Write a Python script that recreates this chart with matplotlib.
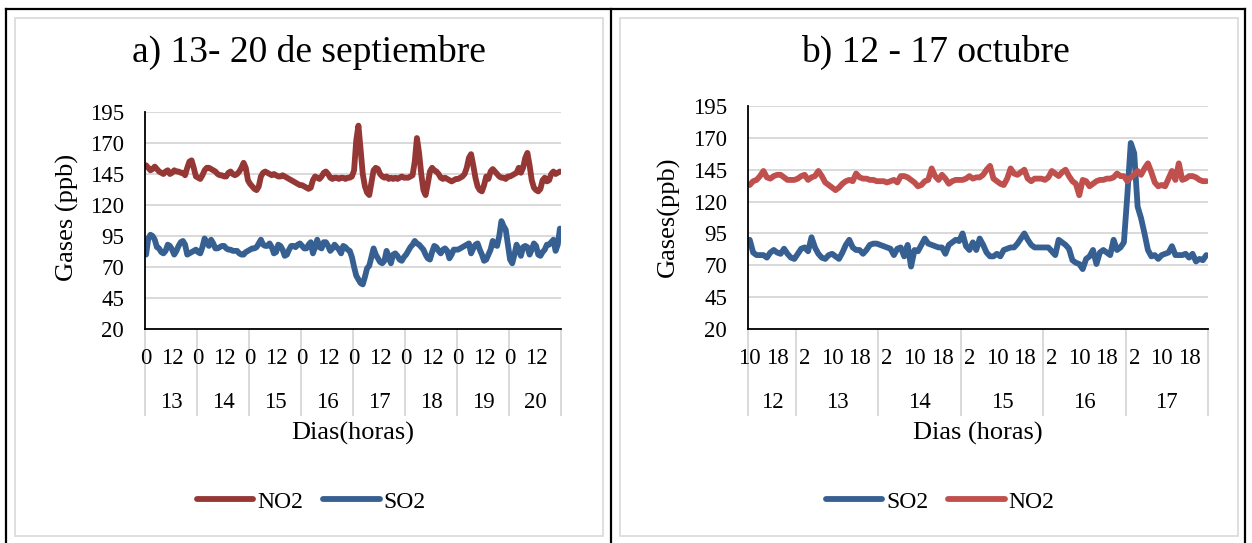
import matplotlib
matplotlib.use('Agg')
import matplotlib.pyplot as plt
from matplotlib import transforms
from matplotlib.lines import Line2D
from matplotlib.patches import Rectangle

plt.rcParams['font.family'] = 'Liberation Serif'

# ---- a) 13-20 septiembre, hourly values (ppb) ----
days_a = ['13', '14', '15', '16', '17', '18', '19', '20']
hour_ticks_a = ['0', '12'] * 8
no2_a = [152, 150, 148, 149, 151, 149, 147, 146, 145, 147, 148, 145, 146, 148, 147, 147, 146, 146, 144, 150, 155, 156, 150, 143,
         142, 141, 144, 148, 150, 150, 149, 148, 147, 145, 144, 144, 143, 143, 146, 147, 145, 144, 145, 147, 150, 154, 150, 140,
         137, 135, 133, 132, 135, 143, 146, 147, 146, 145, 144, 145, 144, 143, 143, 144, 143, 142, 141, 140, 139, 138, 137, 136,
         136, 135, 134, 133, 134, 140, 143, 142, 141, 143, 146, 147, 145, 142, 141, 142, 142, 141, 142, 142, 141, 142, 142, 143,
         148, 172, 184, 165, 145, 135, 130, 128, 138, 148, 150, 149, 145, 143, 142, 143, 141, 142, 141, 142, 141, 142, 143, 142,
         142, 142, 143, 144, 155, 174, 162, 145, 132, 128, 137, 147, 150, 148, 147, 145, 142, 141, 142, 141, 140, 139, 140, 141,
         141, 142, 143, 145, 150, 158, 161, 152, 142, 135, 132, 131, 136, 143, 141, 147, 149, 147, 145, 143, 142, 142, 141, 143,
         143, 144, 145, 146, 150, 146, 150, 158, 162, 152, 140, 134, 132, 131, 133, 140, 142, 139, 140, 145, 147, 145, 146, 147]
so2_a = [80, 93, 96, 95, 92, 86, 85, 82, 81, 83, 88, 87, 84, 80, 83, 87, 90, 91, 88, 80, 81, 82, 83, 84,
         82, 81, 86, 93, 90, 87, 92, 89, 85, 85, 86, 87, 87, 85, 84, 84, 83, 83, 83, 81, 80, 80, 82, 83,
         84, 85, 85, 86, 89, 92, 88, 87, 87, 89, 86, 81, 82, 88, 87, 84, 79, 80, 84, 87, 87, 86, 88, 89,
         87, 85, 85, 88, 90, 81, 86, 92, 86, 85, 90, 90, 87, 83, 85, 88, 86, 84, 81, 87, 86, 84, 83, 78,
         70, 63, 60, 57, 56, 62, 69, 71, 78, 85, 80, 77, 74, 73, 75, 83, 78, 73, 80, 81, 79, 76, 75, 78,
         80, 83, 86, 88, 91, 89, 88, 86, 84, 80, 77, 76, 82, 87, 86, 83, 81, 84, 85, 83, 77, 80, 84, 84,
         84, 85, 86, 87, 88, 89, 81, 85, 88, 89, 84, 80, 75, 76, 80, 84, 91, 88, 87, 95, 107, 103, 100, 88,
         76, 73, 80, 88, 84, 79, 86, 87, 86, 80, 84, 89, 87, 80, 79, 82, 84, 88, 88, 90, 92, 83, 88, 101]

# ---- b) 12-17 octubre, hourly values (ppb), day 12 starts at 10 h ----
days_b = ['12', '13', '14', '15', '16', '17']
day_len_b = [14, 24, 24, 24, 24, 24]
hour_ticks_b = ['10', '18'] + ['2', '10', '18'] * 5
so2_b = [90, 80, 78, 78, 78, 76, 80, 82, 80, 79, 83, 79, 76, 75,
         79, 83, 84, 81, 92, 84, 79, 76, 75, 78, 79, 77, 75, 80, 86, 90, 84, 82, 82, 79, 82, 86, 87, 87,
         86, 85, 84, 83, 78, 83, 84, 77, 86, 69, 82, 81, 86, 91, 87, 86, 85, 84, 84, 79, 86, 88, 90, 89,
         95, 85, 82, 88, 82, 91, 86, 80, 77, 77, 79, 77, 82, 83, 84, 84, 87, 91, 95, 90, 86, 84, 84, 84,
         84, 84, 81, 78, 90, 88, 86, 83, 74, 72, 71, 67, 75, 77, 82, 71, 80, 82, 80, 78, 90, 82, 84, 88,
         125, 166, 158, 116, 107, 95, 82, 77, 78, 75, 78, 79, 80, 85, 78, 78, 78, 79, 76, 79, 73, 75, 74, 78]
no2_b = [133, 136, 137, 140, 144, 139, 138, 140, 141, 141, 139, 137, 137, 137,
         138, 140, 141, 137, 139, 140, 144, 140, 135, 133, 131, 129, 131, 134, 136, 137, 136, 142, 139, 138, 138, 137, 137, 136,
         136, 136, 135, 136, 137, 135, 140, 140, 139, 137, 135, 132, 133, 136, 137, 146, 140, 137, 141, 138, 134, 136, 137, 137,
         137, 138, 140, 138, 139, 139, 141, 145, 148, 138, 136, 134, 133, 138, 146, 142, 141, 143, 145, 138, 136, 138, 138, 138,
         137, 139, 144, 142, 140, 143, 145, 140, 136, 134, 125, 137, 136, 132, 134, 136, 137, 137, 138, 138, 139, 142, 140, 140,
         136, 139, 141, 144, 141, 146, 150, 143, 135, 132, 133, 132, 138, 144, 137, 150, 137, 138, 140, 140, 139, 137, 136, 136]

W, H = 1252, 543
fig = plt.figure(figsize=(W / 100, H / 100), dpi=100)


def fx(x):
    return x / W


def fy(y):
    return 1 - y / H


# table borders and chart frames
for xs, ys in [([6, 6], [9, 543]), ([611, 611], [9, 543]), ([1245, 1245], [9, 543]), ([6, 1245], [9, 9])]:
    fig.add_artist(Line2D([fx(v) for v in xs], [fy(v) for v in ys], transform=fig.transFigure, color='black', lw=1.6))
for x0, x1 in [(15, 603), (620, 1238)]:
    fig.add_artist(Rectangle((fx(x0), fy(536)), fx(x1) - fx(x0), fy(18) - fy(536), transform=fig.transFigure,
                             fill=False, edgecolor='#d9d9d9', lw=1.2))


def draw_chart(box, series, day_names, day_len, hour_ticks, step, title, xlabel, ylabel, ylab_x, center_x):
    x0, y0, x1, y1 = box
    ax = fig.add_axes([fx(x0), fy(y1), fx(x1) - fx(x0), fy(y0) - fy(y1)])
    n = sum(day_len)
    xs = [i + 0.5 for i in range(n)]
    for vals, name, color in series:
        ax.plot(xs, vals, color=color, lw=4.2, label=name, solid_joinstyle='round', solid_capstyle='round')
    ax.set_xlim(0, n)
    ax.set_ylim(20, 195)
    ax.set_yticks(range(20, 196, 25))
    ax.grid(axis='y', color='#d9d9d9', lw=1.4)
    ax.set_axisbelow(True)
    ax.spines['top'].set_visible(False)
    ax.spines['right'].set_visible(False)
    ax.spines['left'].set_linewidth(1.3)
    ax.spines['bottom'].set_linewidth(1.3)
    ax.tick_params(axis='y', length=0, labelsize=16.5, pad=15)
    ax.set_xticks([])

    tr = transforms.blended_transform_factory(ax.transData, fig.transFigure)
    for k, lab in enumerate(hour_ticks):
        ax.text(k * step + 0.5, fy(359), lab, transform=tr, ha='center', va='center', fontsize=16.5)
    edge = 0
    bounds = [0]
    for name, ln in zip(day_names, day_len):
        ax.text(edge + ln / 2, fy(402), name, transform=tr, ha='center', va='center', fontsize=16.5)
        edge += ln
        bounds.append(edge)
    for b in bounds:
        ax.add_line(Line2D([b, b], [fy(y1), fy(415)], transform=tr, color='#d9d9d9', lw=1.4, clip_on=False))

    fig.text(center_x, fy(52), title, ha='center', va='center', fontsize=27)
    fig.text(fx((x0 + x1) / 2), fy(433), xlabel, ha='center', va='center', fontsize=19)
    fig.text(fx(ylab_x), fy(217), ylabel, ha='center', va='center', rotation=90, fontsize=19)
    return ax


ax1 = draw_chart((145, 112, 561, 329),
                 [(no2_a, 'NO2', '#953735'), (so2_a, 'SO2', '#376092')],
                 days_a, [24] * 8, hour_ticks_a, 12,
                 'a) 13- 20 de septiembre', 'Dias(horas)', 'Gases (ppb)', 67, fx(309))
ax2 = draw_chart((748, 106, 1208, 329),
                 [(so2_b, 'SO2', '#376092'), (no2_b, 'NO2', '#c0504d')],
                 days_b, day_len_b, hour_ticks_b, 8,
                 'b) 12 - 17 octubre', 'Dias (horas)', 'Gases(ppb)', 668, fx(935))

for ax, cx in [(ax1, 311), (ax2, 940)]:
    h, l = ax.get_legend_handles_labels()
    fig.legend(h, l, loc='center', bbox_to_anchor=(fx(cx), fy(502)), ncol=2, frameon=False, fontsize=17,
               handlelength=2.4, handletextpad=0.15, columnspacing=0.85)

fig.savefig('out.png', dpi=100)
